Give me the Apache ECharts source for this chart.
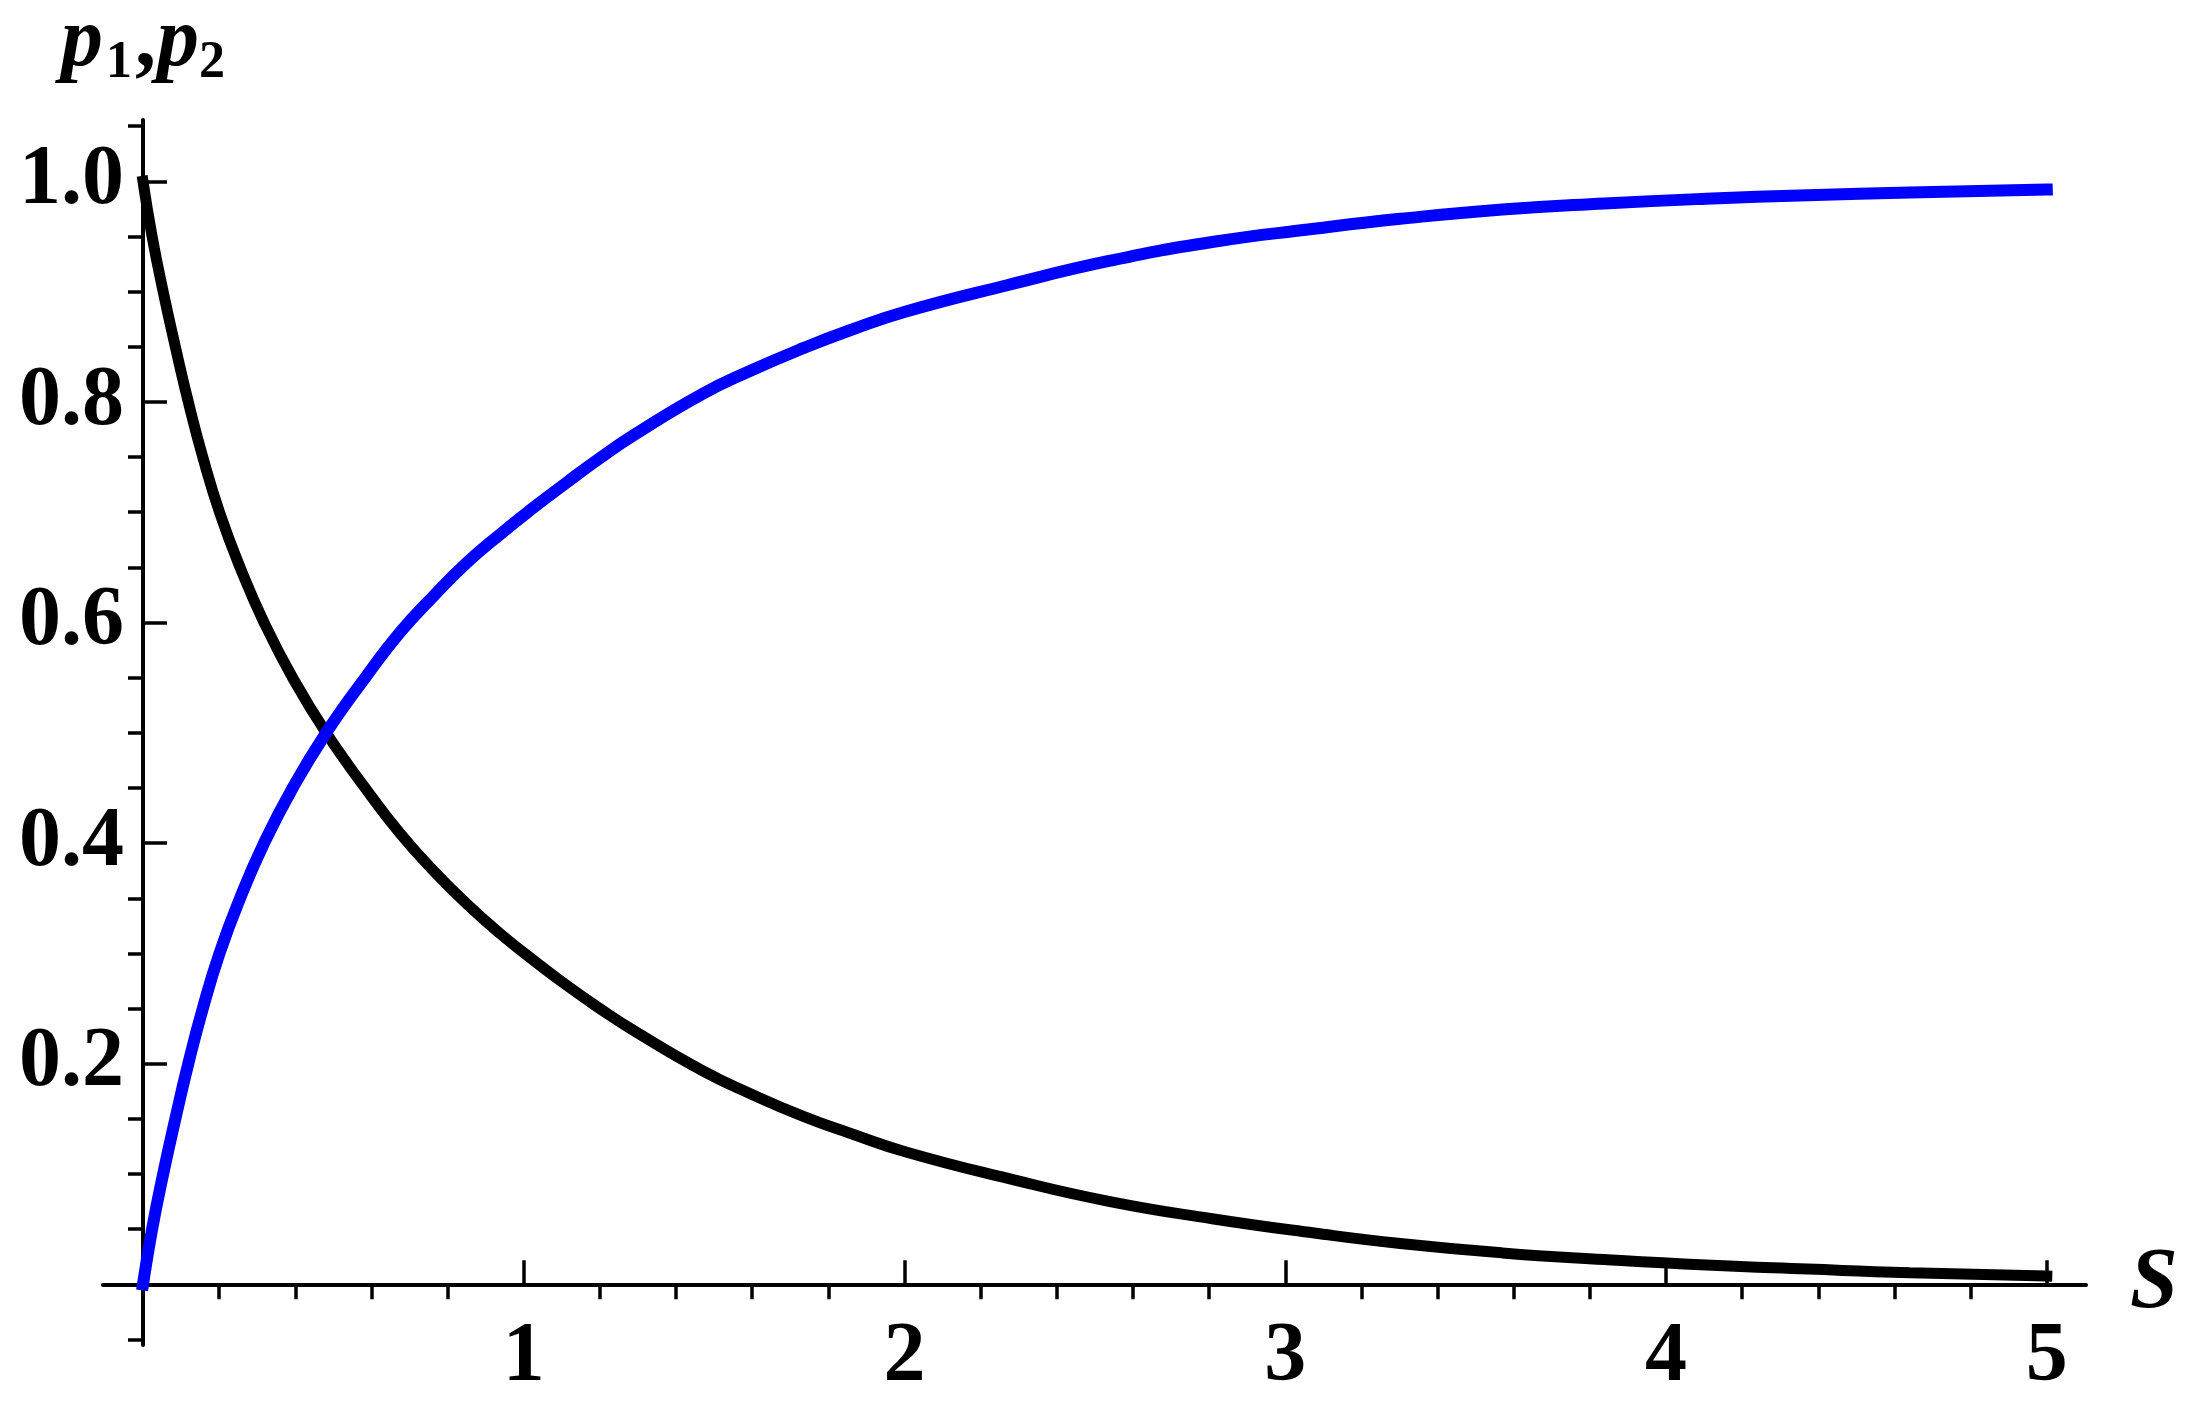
<!DOCTYPE html>
<html>
<head>
<meta charset="utf-8">
<title>p1, p2 vs S</title>
<script src="https://cdn.jsdelivr.net/npm/echarts@6/dist/echarts.min.js"></script>
<style>
	html, body { margin: 0; padding: 0; background: #fff; }
	#chart { width: 2210px; height: 1421px; }
</style>
</head>
<body>
<div id="chart"></div>
<script>
	// values
	var sValues = [0, 0.024, 0.053, 0.085, 0.119, 0.157, 0.201, 0.255, 0.318, 0.393, 0.481, 0.588, 0.675, 0.763, 0.85, 0.938, 1.025, 1.113, 1.2, 1.294, 1.468, 1.594, 1.736, 1.857, 2.004, 2.272, 2.54, 2.808, 3.076, 3.302, 3.57, 3.838, 4.105, 4.373, 4.641, 5.0];
	var p1Values = [1.0, 0.95, 0.9, 0.85, 0.8, 0.75, 0.7, 0.65, 0.6, 0.55, 0.5, 0.448, 0.409, 0.375, 0.345, 0.318, 0.294, 0.271, 0.25, 0.229, 0.194, 0.173, 0.152, 0.137, 0.12, 0.096, 0.075, 0.0595, 0.0465, 0.037, 0.0285, 0.0225, 0.0175, 0.0138, 0.0105, 0.0075];
	var p2Values = [0, 0.05, 0.1, 0.15, 0.2, 0.25, 0.3, 0.35, 0.4, 0.45, 0.5, 0.552, 0.591, 0.624, 0.654, 0.68, 0.704, 0.727, 0.749, 0.771, 0.807, 0.828, 0.849, 0.865, 0.882, 0.906, 0.928, 0.945, 0.957, 0.966, 0.9745, 0.98, 0.9842, 0.9873, 0.9898, 0.9925];

	var xMajorTicks = [1, 2, 3, 4, 5];
	var xMinorTicks = [0.2, 0.4, 0.6, 0.8, 1.2, 1.4, 1.6, 1.8, 2.2, 2.4, 2.6, 2.8, 3.2, 3.4, 3.6, 3.8, 4.2, 4.4, 4.6, 4.8];
	var yMajorTicks = [0.2, 0.4, 0.6, 0.8, 1.0];
	var yMinorTicks = [-0.05, 0.05, 0.1, 0.15, 0.25, 0.3, 0.35, 0.45, 0.5, 0.55, 0.65, 0.7, 0.75, 0.85, 0.9, 0.95, 1.05];

	var serif = "'Liberation Serif', 'Times New Roman', serif";
	var xRange = {min: -0.105, max: 5.103};
	var yRange = {min: -0.055, max: 1.0556};

	function pairs(xs, ys) {
		return xs.map(function(x, i) { return [x, ys[i]]; });
	}

	var chart = echarts.init(document.getElementById('chart'));
	var option = {
		animation: false,
		backgroundColor: '#fff',
		grid: {
			left: 103,
			right: 124,
			top: 120,
			bottom: 76,
			containLabel: false,
			outerBoundsMode: 'none'
		},
		xAxis: [{
			type: 'value',
			min: xRange.min,
			max: xRange.max,
			name: 'S',
			nameLocation: 'end',
			nameGap: 44,
			nameTextStyle: {
				color: '#000',
				fontFamily: serif,
				fontStyle: 'italic',
				fontWeight: 'bold',
				fontSize: 86,
				padding: [18, 0, 0, 0]
			},
			axisLine: {
				onZero: true,
				onZeroAxisIndex: 0,
				lineStyle: {color: '#000', width: 4}
			},
			axisTick: {
				inside: true,
				length: 24,
				customValues: xMajorTicks,
				lineStyle: {color: '#000', width: 3.5}
			},
			// labels are laid out from the grid edge, not from the zero line
			axisLabel: {
				customValues: xMajorTicks,
				margin: -29,
				color: '#000',
				fontFamily: serif,
				fontWeight: 'bold',
				fontSize: 84
			},
			splitLine: {show: false}
		}, {
			type: 'value',
			min: xRange.min,
			max: xRange.max,
			axisLine: {show: false, onZero: true, onZeroAxisIndex: 0},
			axisTick: {
				inside: true,
				length: 15,
				customValues: xMinorTicks,
				lineStyle: {color: '#000', width: 3.5}
			},
			axisLabel: {show: false},
			splitLine: {show: false}
		}],
		yAxis: [{
			type: 'value',
			min: yRange.min,
			max: yRange.max,
			name: '{p|p}{a|1}{c|,}{p|p}{b|2}',
			nameLocation: 'end',
			nameGap: 35,
			nameTextStyle: {
				rich: {
					p: {fontFamily: serif, fontStyle: 'italic', fontWeight: 'bold', fontSize: 84, lineHeight: 84, color: '#000'},
					c: {fontFamily: serif, fontWeight: 'bold', fontSize: 84, lineHeight: 84, color: '#000', padding: [0, 1, 0, 0]},
					a: {fontFamily: serif, fontWeight: 'bold', fontSize: 52, lineHeight: 52, color: '#000', padding: [42, 3, 0, 3]},
					b: {fontFamily: serif, fontWeight: 'bold', fontSize: 52, lineHeight: 52, color: '#000', padding: [42, 0, 0, 0]}
				}
			},
			axisLine: {
				onZero: true,
				onZeroAxisIndex: 0,
				lineStyle: {color: '#000', width: 4}
			},
			axisTick: {
				inside: true,
				length: 24,
				customValues: yMajorTicks,
				lineStyle: {color: '#000', width: 3.5}
			},
			axisLabel: {
				customValues: yMajorTicks,
				margin: -21,
				padding: [12, 0, 0, 0],
				color: '#000',
				fontFamily: serif,
				fontWeight: 'bold',
				fontSize: 84,
				formatter: function(v) { return v.toFixed(1); }
			},
			splitLine: {show: false}
		}, {
			type: 'value',
			min: yRange.min,
			max: yRange.max,
			axisLine: {show: false, onZero: true, onZeroAxisIndex: 0},
			axisTick: {
				inside: true,
				length: 15,
				customValues: yMinorTicks,
				lineStyle: {color: '#000', width: 3.5}
			},
			axisLabel: {show: false},
			splitLine: {show: false}
		}],
		series: [{
			name: 'p1',
			type: 'line',
			xAxisIndex: 0,
			yAxisIndex: 0,
			smooth: 0.5,
			showSymbol: false,
			lineStyle: {color: '#000', width: 11, cap: 'square'},
			data: pairs(sValues, p1Values)
		}, {
			name: 'p2',
			type: 'line',
			xAxisIndex: 0,
			yAxisIndex: 0,
			smooth: 0.5,
			showSymbol: false,
			lineStyle: {color: '#0000ff', width: 12, cap: 'square'},
			data: pairs(sValues, p2Values)
		}]
	};
	chart.setOption(option);
</script>
</body>
</html>
